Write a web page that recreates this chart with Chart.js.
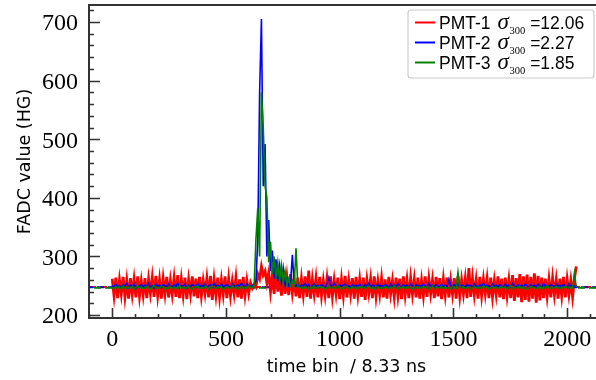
<!DOCTYPE html>
<html><head><meta charset="utf-8">
<script src="https://cdn.jsdelivr.net/npm/chart.js@4.4.0/dist/chart.umd.min.js"></script>
<style>
html,body{margin:0;padding:0;background:#fff;overflow:hidden;width:596px;height:380px}
#wrap{position:absolute;left:0;top:0;width:604px;height:380px}
</style></head><body>
<div id="wrap"><canvas id="c" width="604" height="380"></canvas></div>
<script>
// sample spacing of the digitised waveforms (time bins)
const BIN_STEP = 8;

const pmt1 = [
262,233,264,229,260,236,265,231,259,228,263,235,261,230,266,232,
258,234,263,229,261,237,264,231,267,233,260,228,262,236,265,230,
259,235,263,231,268,229,261,234,264,227,260,236,266,232,262,229,
265,233,259,237,263,230,267,226,261,234,264,231,260,235,266,229,
262,233,258,236,264,230,261,228,265,234,259,237,255,
246,252,248,270,262,283,268,275,255,272,240,268,236,282,240,270,233,276,236,265,234,270,238,262,
232,264,229,262,235,266,231,276,228,261,236,263,230,265,233,259,
234,262,229,266,232,260,236,264,227,261,233,267,230,259,235,263,
228,265,234,261,231,264,226,260,237,262,229,266,232,258,235,263,
230,261,228,265,236,259,231,264,233,262,227,266,234,260,229,263,
235,261,230,264,228,259,233,266,231,262,236,260,229,265,232,263,
227,261,234,264,230,259,235,263,228,266,232,260,236,262,229,280,
231,263,234,260,228,265,233,261,236,262,229,264,231,259,235,266,
230,262,227,264,233,260,229,268,224,263,230,270,222,266,226,269,
223,265,228,271,221,267,225,264,229,262,232,261,230,263,234,260,
228,262,233,265,230,261,235,259,231,262,283
];

const pmt2 = [
251,247,253,248,250,246,252,249,254,247,251,248,253,246,250,249,
252,247,251,249,254,248,250,246,253,249,251,247,252,250,248,253,
249,247,252,248,255,247,250,249,253,246,251,248,252,250,247,254,
248,251,249,253,247,250,252,248,254,249,251,247,253,248,250,252,
249,247,253,250,248,252,249,254,251,248,253,250,249,
250,252,258,330,578,705,420,492,300,362,275,310,262,295,258,285,255,280,252,262,250,255,303,252,
249,253,247,251,250,254,248,252,247,250,253,249,251,248,252,250,
247,253,264,251,248,254,250,247,252,249,251,253,248,250,247,252,
249,251,248,253,250,247,252,249,254,248,251,250,247,253,249,251,
248,252,250,247,253,249,251,248,254,250,247,252,249,251,248,253,
250,247,252,249,251,248,253,250,247,254,249,251,248,252,250,247,
253,249,251,248,261,250,247,252,249,253,248,251,250,247,252,249,
251,248,253,250,247,252,249,254,248,251,250,247,253,249,251,248,
252,250,247,253,249,251,248,254,250,247,252,249,251,248,253,250,
247,252,249,251,248,253,250,247,254,249,251,248,252,250,247,253,
249,251,248,252,250,247,253,249,251,248,252
];

const pmt3 = [
247,245,249,246,248,244,250,247,245,248,246,249,244,247,250,246,
248,245,247,249,246,244,248,250,245,247,246,249,248,244,247,246,
249,245,248,247,244,250,246,248,245,247,249,246,244,248,247,250,
245,247,246,249,248,244,247,250,246,245,248,247,249,244,246,248,
247,245,250,246,248,244,247,249,245,248,246,250,247,
248,250,330,383,300,580,521,420,400,290,325,270,300,262,290,258,285,255,275,252,262,250,258,251,314,250,
246,248,245,249,247,244,248,246,250,245,247,249,246,248,244,247,
249,246,248,245,247,250,246,244,248,247,249,245,246,248,247,244,
248,246,249,247,245,248,250,246,247,244,249,248,245,247,246,249,
247,245,248,246,250,247,244,248,246,249,245,247,248,246,244,249,
246,248,245,247,249,246,248,244,247,250,245,248,246,247,249,245,
248,246,247,244,249,247,245,273,248,246,249,245,247,248,244,247,
249,246,248,245,247,250,246,248,244,247,249,246,248,245,247,249,
246,248,244,247,250,245,248,246,247,249,245,248,246,244,247,249,
248,246,245,247,249,244,248,246,250,247,245,248,246,249,247,245,
248,246,249,247,245,248,246,271,248
];

const baselines = [248, 247.5, 246.5];
const seriesLabels = ['PMT-1', 'PMT-2', 'PMT-3'];
const sigmaValues = ['12.06', '2.27', '1.85'];
const seriesColors = ['#ff0000', '#0000ff', '#008000'];
const seriesWidths = [2.8, 1.6, 1.6];

const xTickValues = [0, 500, 1000, 1500, 2000];
const xMinorValues = [-100,100,200,300,400,600,700,800,900,1100,1200,1300,1400,1600,1700,1800,1900,2100];
const yTickValues = [200, 300, 400, 500, 600, 700];
const yMinorValues = [220,240,260,280,320,340,360,380,420,440,460,480,520,540,560,580,620,640,660,680,720];

const X_MIN = -102, X_MAX = 2162, Y_MIN = 195, Y_MAX = 729;

const SERIF = '"Liberation Serif", "Times New Roman", serif';
const SANS = '"DejaVu Sans", sans-serif';

const toXY = arr => arr.map((v, i) => ({x: i * BIN_STEP, y: v}));
const series = [pmt1, pmt2, pmt3];

const datasets = [];
series.forEach((s, k) => {
  datasets.push({
    label: seriesLabels[k], data: toXY(s), borderColor: seriesColors[k],
    borderWidth: seriesWidths[k], pointRadius: 0, tension: 0, order: 3 - k
  });
});
baselines.forEach((b, k) => {
  datasets.push({
    label: seriesLabels[k] + ' mean', data: [{x: X_MIN, y: b}, {x: X_MAX, y: b}],
    borderColor: seriesColors[k], borderWidth: 2, borderDash: [7, 4], borderDashOffset: k * 3,
    pointRadius: 0, order: 10 - k
  });
});

const framePlugin = {
  id: 'frame',
  afterDraw(chart) {
    const {ctx, chartArea: a, scales: {x, y}} = chart;
    ctx.save();
    ctx.strokeStyle = '#333';
    ctx.lineWidth = 1.6;
    ctx.beginPath();
    xTickValues.forEach(v => { const p = Math.round(x.getPixelForValue(v)) + 0.5; ctx.moveTo(p, a.bottom); ctx.lineTo(p, a.bottom - 10); });
    xMinorValues.forEach(v => { const p = Math.round(x.getPixelForValue(v)) + 0.5; ctx.moveTo(p, a.bottom); ctx.lineTo(p, a.bottom - 4); });
    yTickValues.forEach(v => { const p = Math.round(y.getPixelForValue(v)) + 0.5; ctx.moveTo(a.left, p); ctx.lineTo(a.left + 11, p); });
    yMinorValues.forEach(v => { const p = Math.round(y.getPixelForValue(v)) + 0.5; ctx.moveTo(a.left, p); ctx.lineTo(a.left + 5, p); });
    ctx.stroke();
    ctx.lineWidth = 2;
    ctx.strokeRect(a.left, a.top, a.right - a.left, a.bottom - a.top);
    // legend
    const bx = a.right - 196, by = a.top + 5, bw = 186, bh = 68;
    ctx.fillStyle = 'rgba(255,255,255,0.85)';
    ctx.strokeStyle = '#cccccc';
    ctx.lineWidth = 1.2;
    ctx.beginPath();
    ctx.roundRect(bx, by, bw, bh, 3);
    ctx.fill(); ctx.stroke();
    seriesLabels.forEach((lab, k) => {
      const ry = by + 12.5 + k * 20;
      ctx.strokeStyle = seriesColors[k];
      ctx.lineWidth = 2;
      ctx.beginPath(); ctx.moveTo(bx + 7, ry); ctx.lineTo(bx + 27, ry); ctx.stroke();
      ctx.fillStyle = '#000';
      ctx.textBaseline = 'alphabetic';
      ctx.font = '17.5px "Liberation Sans"';
      let tx = bx + 31;
      ctx.fillText(lab, tx, ry + 6.5);
      tx += ctx.measureText(lab).width + 7;
      ctx.font = 'italic 23px "Liberation Serif"';
      ctx.fillText('σ', tx, ry + 6.5);
      tx += ctx.measureText('σ').width + 0.5;
      ctx.font = '10.5px "Liberation Serif"';
      ctx.fillText('300', tx, ry + 11);
      tx += ctx.measureText('300').width + 5;
      ctx.font = '17.5px "Liberation Sans"';
      ctx.fillText('=' + sigmaValues[k], tx, ry + 6.5);
    });
    ctx.restore();
  }
};

new Chart(document.getElementById('c'), {
  type: 'line',
  data: {datasets},
  options: {
    responsive: false, animation: false, devicePixelRatio: 1,
    layout: {padding: {left: 15, top: 5, right: 0, bottom: 2}},
    plugins: {legend: {display: false}, tooltip: {enabled: false}},
    scales: {
      x: {
        type: 'linear', min: X_MIN, max: X_MAX,
        afterBuildTicks: s => { s.ticks = xTickValues.map(v => ({value: v})); },
        afterFit: s => { s.paddingLeft = 0; s.paddingRight = 0; s.height = 60; },
        grid: {display: false, drawTicks: false}, border: {display: false},
        ticks: {font: {family: SERIF, size: 24}, color: '#000', padding: 7, maxRotation: 0, autoSkip: false,
          callback: v => String(v)},
        title: {display: true, text: 'time bin  / 8.33 ns', color: '#000',
          font: {family: SANS, size: 17.5}, padding: {top: 2, bottom: 0}}
      },
      y: {
        type: 'linear', min: Y_MIN, max: Y_MAX,
        afterBuildTicks: s => { s.ticks = yTickValues.map(v => ({value: v})); },
        afterFit: s => { s.paddingTop = 0; s.paddingBottom = 0; s.width = 74; },
        grid: {display: false, drawTicks: false}, border: {display: false},
        ticks: {font: {family: SERIF, size: 24}, color: '#000', padding: 11, labelOffset: 2, autoSkip: false,
          callback: v => String(v)},
        title: {display: true, text: 'FADC value (HG)', color: '#000',
          font: {family: SANS, size: 17.5}, padding: {top: 0, bottom: 6}}
      }
    }
  },
  plugins: [framePlugin]
});
</script>
</body></html>
